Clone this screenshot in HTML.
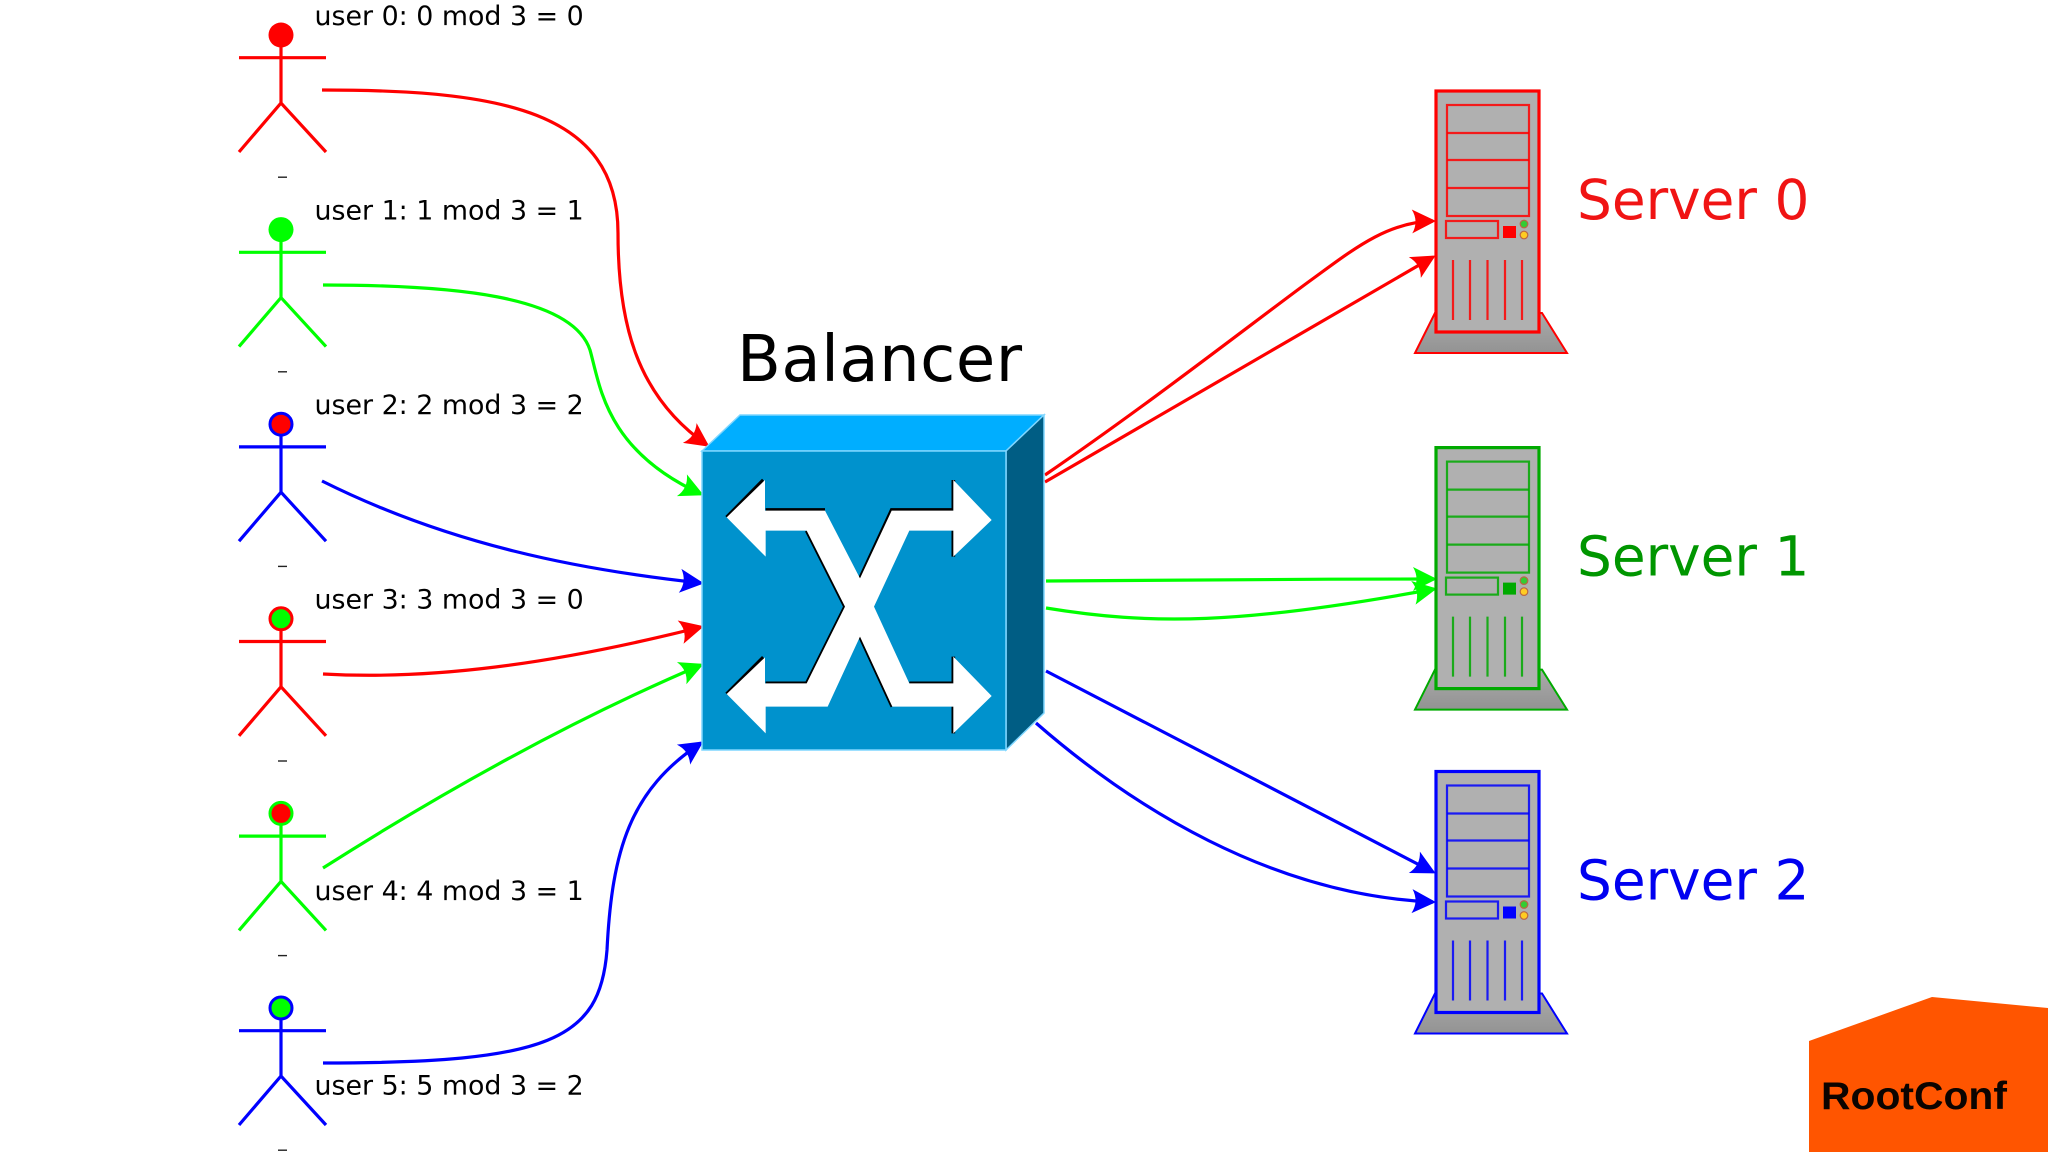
<!DOCTYPE html>
<html><head><meta charset="utf-8"><title>Balancer</title>
<style>html,body{margin:0;padding:0;background:#fff}svg{display:block}text{font-family:"DejaVu Sans",sans-serif}</style>
</head><body>
<svg xmlns="http://www.w3.org/2000/svg" width="2048" height="1152" viewBox="0 0 2048 1152">
<defs>
<marker id="ar" markerUnits="userSpaceOnUse" markerWidth="32" markerHeight="32" refX="25" refY="16" orient="auto"><path d="M28,16 L4,4 Q11,16 4,28 Z" fill="#f00"/></marker>
<marker id="ag" markerUnits="userSpaceOnUse" markerWidth="32" markerHeight="32" refX="25" refY="16" orient="auto"><path d="M28,16 L4,4 Q11,16 4,28 Z" fill="#0f0"/></marker>
<marker id="ab" markerUnits="userSpaceOnUse" markerWidth="32" markerHeight="32" refX="25" refY="16" orient="auto"><path d="M28,16 L4,4 Q11,16 4,28 Z" fill="#00f"/></marker>
<linearGradient id="base" x1="0" y1="0" x2="0" y2="1"><stop offset="0" stop-color="#aaa"/><stop offset="1" stop-color="#939393"/></linearGradient>
<g id="person" fill="none" stroke-width="3.2"><path d="M239,57.7H326M281,47V103M239,152L281,103L326,152"/></g>
<g id="server">
<path d="M1435,313L1415,353H1567L1542,313Z" fill="url(#base)" stroke="currentColor" stroke-width="2"/>
<rect x="1436" y="91" width="103" height="241" fill="#b0b0b0" stroke="currentColor" stroke-width="3.200"/>
<g fill="none" stroke="currentColor" stroke-width="2.200" stroke-opacity=".85">
<rect x="1447" y="105" width="82" height="111"/><path d="M1447,133H1529M1447,160H1529M1447,188H1529"/>
<rect x="1446" y="221" width="52" height="17"/>
<path d="M1453,260V320M1470,260V320M1487.5,260V320M1505,260V320M1522,260V320"/>
</g>
<rect x="1503" y="226" width="13" height="12" fill="currentColor"/>
<circle cx="1524" cy="224" r="3.8" fill="#3c3" stroke="#b64" stroke-width="1.2"/>
<circle cx="1524" cy="235" r="3.8" fill="#fc2" stroke="#b64" stroke-width="1.2"/>
</g>
</defs>
<rect width="2048" height="1152" fill="#fff"/>

<!-- users -->
<use href="#person" stroke="#f00"/>
<circle cx="281" cy="35" r="12.5" fill="#f00"/>
<use href="#person" stroke="#0f0" y="194.6"/>
<circle cx="281" cy="229.6" r="12.5" fill="#0f0"/>
<use href="#person" stroke="#00f" y="389.2"/>
<circle cx="281" cy="424.2" r="11" fill="#f00" stroke="#00f" stroke-width="3"/>
<use href="#person" stroke="#f00" y="583.8"/>
<circle cx="281" cy="618.8" r="11" fill="#0f0" stroke="#f00" stroke-width="3"/>
<use href="#person" stroke="#0f0" y="778.4"/>
<circle cx="281" cy="813.4" r="11" fill="#f00" stroke="#0f0" stroke-width="3"/>
<use href="#person" stroke="#00f" y="973"/>
<circle cx="281" cy="1008" r="11" fill="#0f0" stroke="#00f" stroke-width="3"/>

<g fill="#222">
<rect x="278" y="176.500" width="9" height="1.4"/><rect x="278" y="371.100" width="9" height="1.4"/><rect x="278" y="565.700" width="9" height="1.4"/><rect x="278" y="760.300" width="9" height="1.4"/><rect x="278" y="954.900" width="9" height="1.4"/><rect x="278" y="1149.500" width="9" height="1.4"/>
</g>

<g font-size="26.850" fill="#000">
<text x="314.500" y="25">user 0: 0 mod 3 = 0</text>
<text x="314.500" y="219.500">user 1: 1 mod 3 = 1</text>
<text x="314.500" y="414">user 2: 2 mod 3 = 2</text>
<text x="314.500" y="608.500">user 3: 3 mod 3 = 0</text>
<text x="314.500" y="900">user 4: 4 mod 3 = 1</text>
<text x="314.500" y="1094.500">user 5: 5 mod 3 = 2</text>
</g>

<!-- left connectors -->
<g fill="none" stroke-width="3.200">
<path d="M322,90C500,90 618,110 618,233C618,320 635,395 707,445" stroke="#f00" marker-end="url(#ar)"/>
<path d="M323,285C450,285 572,295 590,350C600,385 605,450 701,494" stroke="#0f0" marker-end="url(#ag)"/>
<path d="M322,481C450,545 580,570 701,583" stroke="#00f" marker-end="url(#ab)"/>
<path d="M323,674C430,680 550,665 701,627" stroke="#f00" marker-end="url(#ar)"/>
<path d="M323,868C430,800 560,725 701,665" stroke="#0f0" marker-end="url(#ag)"/>
<path d="M323,1063C550,1063 600,1040 607,950C612,850 630,790 701,743" stroke="#00f" marker-end="url(#ab)"/>
<!-- right connectors -->
<path d="M1045,475C1150,403 1250,325 1307,283C1350,252 1385,222 1433,221" stroke="#f00" marker-end="url(#ar)"/>
<path d="M1045,482L1433,257" stroke="#f00" marker-end="url(#ar)"/>
<path d="M1046,581C1150,580 1300,579 1434,579" stroke="#0f0" marker-end="url(#ag)"/>
<path d="M1046,608C1150,625 1240,625 1434,589" stroke="#0f0" marker-end="url(#ag)"/>
<path d="M1046,671L1433,872" stroke="#00f" marker-end="url(#ab)"/>
<path d="M1036,723C1130,805 1270,895 1433,902" stroke="#00f" marker-end="url(#ab)"/>
</g>

<!-- balancer -->
<text x="737" y="381" font-size="64" fill="#000" textLength="285">Balancer</text>
<path d="M702,451L740,415H1044L1006,451Z" fill="#00aeff" stroke="#7fd6ff" stroke-width="1.5"/>
<path d="M1006,451L1044,415V713L1006,750Z" fill="#005d84" stroke="#7fd6ff" stroke-width="1.5"/>
<rect x="702" y="451" width="304" height="299" fill="#0092cd" stroke="#7fd6ff" stroke-width="1.5"/>
<g transform="translate(680,320) scale(.33333)">
<path fill="none" stroke="#000" stroke-width="11" d="M140,592L250,480M257,570H435M540,775L635,570H820V480M820,632V710M380,632L495,860L380,1090H257M140,1122L250,1012M540,950L637,1160M688,1090H820V1010M820,1160V1240"/>
<path fill="#fff" d="M140,592L255,480V572H435L540,775L635,572H820V480L935,600L820,710V632H688L582,860L688,1090H820V1010L935,1128L820,1240V1160H637L540,950L443,1160H257V1240L140,1122L255,1012V1090H380L495,860L380,632H257V710Z"/>
</g>

<!-- servers -->
<use href="#server" color="#f00"/>
<use href="#server" color="#0a0" y="356.600"/>
<use href="#server" color="#00f" y="680.500"/>
<g font-size="54.900">
<text x="1577" y="219" fill="#f01414">Server 0</text>
<text x="1577" y="575.600" fill="#009600">Server 1</text>
<text x="1577" y="899.500" fill="#0000f0">Server 2</text>
</g>

<!-- logo -->
<path d="M1809,1041L1932,997L2048,1008V1152H1809Z" fill="#ff5500"/>
<text x="1821" y="1109" font-size="39" font-weight="700" textLength="186" lengthAdjust="spacingAndGlyphs" style="font-family:'Liberation Sans',sans-serif" fill="#0c0400">RootConf</text>
</svg>
</body></html>
